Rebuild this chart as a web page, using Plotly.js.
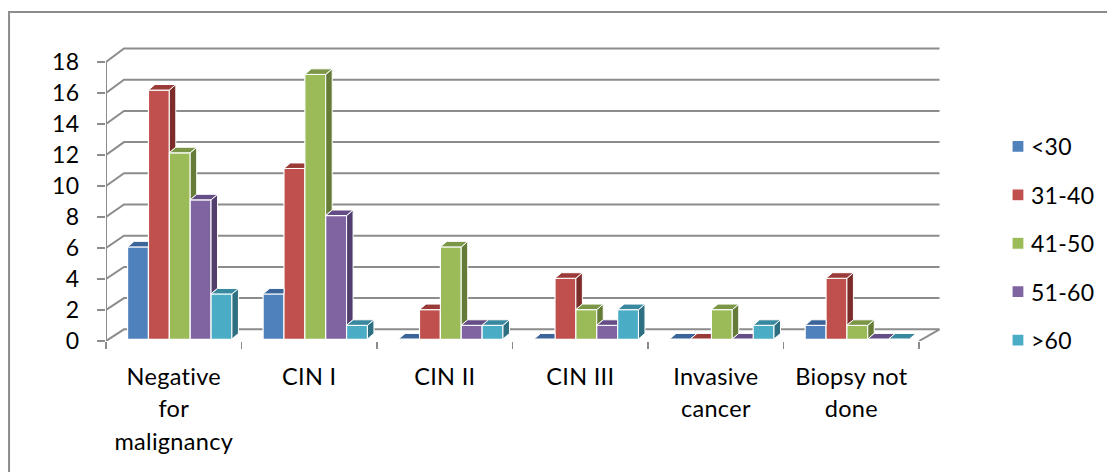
<!DOCTYPE html>
<html><head><meta charset="utf-8">
<script src="https://cdn.plot.ly/plotly-3.0.1.min.js"></script>
<style>html,body{margin:0;padding:0;background:#fff}#c{width:1107px;height:472px}
.xtick text,.ytick text,.legendtext{letter-spacing:.3px}</style>
</head><body><div id="c"></div>
<script>
const categories = ['Negative<br>for<br>malignancy','CIN I','CIN II','CIN III','Invasive<br>cancer','Biopsy not<br>done'];
const yTicks = [0,2,4,6,8,10,12,14,16,18];
const under30 = [6,3,0,0,0,1];
const s31to40 = [16,11,2,4,0,4];
const s41to50 = [12,17,6,2,2,1];
const s51to60 = [9,8,1,1,0,0];
const over60  = [3,1,1,2,1,0];
const seriesNames = ['<30','31-40','41-50','51-60','>60'];
const seriesValues = [under30,s31to40,s41to50,s51to60,over60];
const frontColors = ['#4F81BD','#C0504D','#9BBB59','#8064A2','#4BACC6'];
const topColors   = ['#3B659A','#9A3B39','#7B9646','#654E85','#38889F'];
const sideColors  = ['#2F5078','#7C2C2A','#657C38','#523F6E','#2E6F82'];
const gridColor = '#8C8C8C';

// pixel geometry of the pseudo-3D box
const W=1107,H=472,L=105.5,R=945,T=40,B=341;
const pxX=135.6, pxY=15.5;
const xMax=(R-L)/pxX, yMax=(B-T)/pxY;
const wallDX=18/pxX;
const wallY=v=>(11.7+15.6*v)/pxY;
const wallRight=(939.5-L)/pxX;
// bar plane
const barBase=2, barPxY=15.58, barShift=6.0/pxX;
const gap=0.23, bw=(1-gap)/5;
const depthX=6.5/pxX, depthY=5.5/barPxY;
const floorLift=2/barPxY;

const traces=[];
// back wall grid + skew lines, left axis
const gx=[0,0,null],gy=[0,18,null];
yTicks.forEach(v=>{gx.push(0,wallDX,wallRight,null);gy.push(v,wallY(v),wallY(v),null);});
gx.push(6,wallRight);gy.push(0,wallY(0));
traces.push({type:'scatter',mode:'lines',x:gx,y:gy,xaxis:'x',yaxis:'y',cliponaxis:false,
  line:{color:gridColor,width:2},hoverinfo:'skip',showlegend:false});

// front faces
seriesValues.forEach((vals,s)=>{
  traces.push({type:'bar',name:seriesNames[s],legendgroup:seriesNames[s],
    x:categories.map((c,i)=>i+0.5),y:vals,xaxis:'x2',yaxis:'y2',
    marker:{color:frontColors[s],line:{color:'#ffffff',width:1.2}},hoverinfo:'skip'});
});
// white strip under the bars
const mx=[],my=[];
categories.forEach((c,i)=>{mx.push(i+0.5-2.5*bw-0.01,i+0.5+2.5*bw+0.01,null);my.push(floorLift/2-0.02,floorLift/2-0.02,null);});
traces.push({type:'scatter',mode:'lines',x:mx,y:my,xaxis:'x2',yaxis:'y2',cliponaxis:false,
  line:{color:'#ffffff',width:3},hoverinfo:'skip',showlegend:false});
// side + top faces, computed from the values
seriesValues.forEach((vals,s)=>{
  const sx=[],sy=[],tx=[],ty=[];
  vals.forEach((raw,i)=>{
    const v=Math.max(raw,floorLift);
    const xl=i+0.5-2.5*bw+s*bw, xr=xl+bw;
    const next=s<4?seriesValues[s+1][i]:0;
    const taller=s<4&&next>raw;
    if(!taller&&raw>0){
      const low=Math.max(s<4?next:0,floorLift);
      if(low<v){sx.push(xr,xr+depthX,xr+depthX,xr,xr,null);sy.push(v,v+depthY,low+depthY,low,v,null);}
    }
    const rightBack=taller?xr:xr+depthX;
    tx.push(xl,xr,rightBack,xl+depthX,xl,null);
    ty.push(v,v,v+depthY,v+depthY,v,null);
  });
  traces.push({type:'scatter',mode:'lines',x:sx,y:sy,xaxis:'x2',yaxis:'y2',fill:'toself',fillcolor:sideColors[s],
    line:{color:'#ffffff',width:1},hoverinfo:'skip',showlegend:false});
  traces.push({type:'scatter',mode:'lines',x:tx,y:ty,xaxis:'x2',yaxis:'y2',fill:'toself',fillcolor:topColors[s],
    line:{color:'#ffffff',width:1},hoverinfo:'skip',showlegend:false});
});
// front floor edge, on top of everything
traces.push({type:'scatter',mode:'lines',x:[-barShift,6-barShift],y:[-barBase/barPxY,-barBase/barPxY],xaxis:'x2',yaxis:'y2',cliponaxis:false,
  line:{color:gridColor,width:2},hoverinfo:'skip',showlegend:false});

const font='Lato, "Open Sans", sans-serif';
const pw=R-L, ph=B-T;
const layout={
  width:W,height:H,margin:{l:L,r:W-R,t:T,b:H-B,pad:0,autoexpand:false},
  paper_bgcolor:'#fff',plot_bgcolor:'rgba(0,0,0,0)',
  font:{family:font,size:23,color:'#000'},
  barmode:'group',bargap:gap,bargroupgap:0,hovermode:false,
  xaxis:{type:'linear',range:[0,xMax],domain:[0,1],showgrid:false,zeroline:false,showline:false,
    tickmode:'array',tickvals:categories.map((c,i)=>i+0.5),ticktext:categories,ticks:'',ticklen:0,
    ticklabelstandoff:19,tickfont:{family:font,size:23.5,color:'#000'},tickangle:0,
    minor:{tickmode:'array',tickvals:[0,1,2,3,4,5,6],ticks:'outside',ticklen:7,tickwidth:1.5,tickcolor:gridColor,showgrid:false}},
  yaxis:{range:[0,yMax],domain:[0,1],showgrid:false,zeroline:false,showline:false,
    tickmode:'array',tickvals:yTicks,ticktext:yTicks.map(String),ticks:'outside',ticklen:8,tickwidth:1.5,tickcolor:gridColor,
    ticklabelstandoff:13,tickfont:{family:font,size:23,color:'#000'}},
  xaxis2:{overlaying:'x',anchor:'y2',range:[-barShift,xMax-barShift],visible:false,showgrid:false,zeroline:false},
  yaxis2:{overlaying:'y',anchor:'x2',domain:[barBase/ph,1],range:[0,(B-barBase-T)/barPxY],visible:false,showgrid:false,zeroline:false},
  showlegend:true,
  legend:{x:(991-L)/pw,xanchor:'left',y:(B-125)/ph,yanchor:'top',bgcolor:'rgba(0,0,0,0)',borderwidth:0,
    orientation:'v',traceorder:'grouped',tracegroupgap:15.5,font:{family:font,size:23,color:'#000'}},
  shapes:[{type:'path',xref:'paper',yref:'paper',
    path:`M ${(8.5-L)/pw} ${(B-480)/ph} L ${(8.5-L)/pw} ${(B-12)/ph} L ${(1112-L)/pw} ${(B-12)/ph}`,
    line:{color:'#8C8C8C',width:2},layer:'below'}]
};
Plotly.newPlot('c',traces,layout,{displayModeBar:false,staticPlot:true}).then(()=>{
  document.querySelectorAll('.xtick text tspan.line').forEach(t=>{
    const d=t.getAttribute('dy');
    if(d) t.setAttribute('dy',(parseFloat(d)/1.3*1.385)+'em');
  });
  document.querySelectorAll('.legend .legendpoints').forEach(p=>{
    p.setAttribute('transform','translate(7,0)');
  });
});
</script></body></html>
